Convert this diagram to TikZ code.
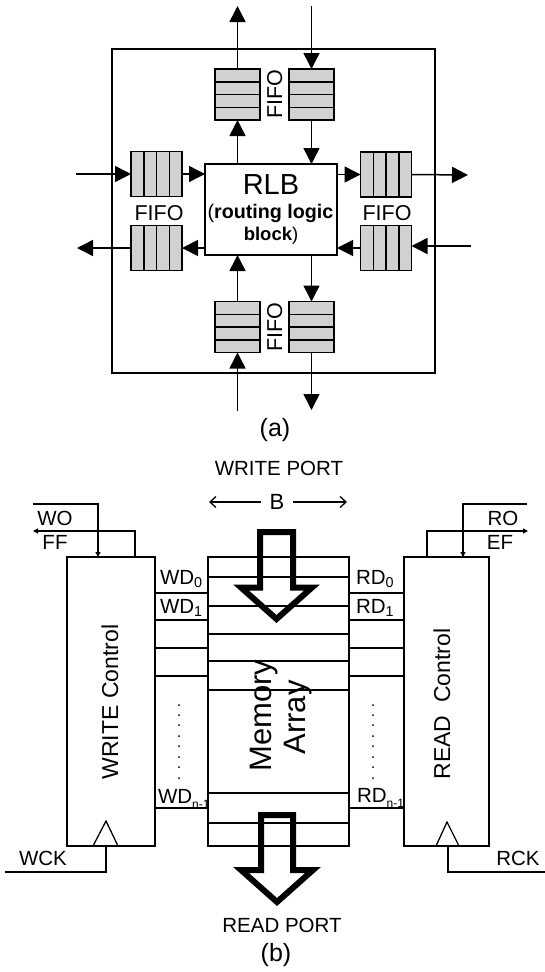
\documentclass[tikz,border=0pt]{standalone}
\usepackage{fontspec}
\setmainfont{Liberation Sans}
\usetikzlibrary{arrows.meta,calc}
\definecolor{fifogray}{gray}{0.82}
\tikzset{
  x=1pt,y=-1pt,
  every node/.style={inner sep=0pt,outer sep=0pt},
  fifo/.style={draw=black,fill=fifogray,line width=1.5pt},
  fifoh/.style={fifo,minimum width=45pt,minimum height=51pt,path picture={
    \foreach \t in {0.25,0.5,0.75}
      \draw ($(path picture bounding box.north west)!\t!(path picture bounding box.south west)$) -- ($(path picture bounding box.north east)!\t!(path picture bounding box.south east)$);}},
  fifov/.style={fifo,minimum width=51pt,minimum height=45pt,path picture={
    \foreach \t in {0.25,0.5,0.75}
      \draw ($(path picture bounding box.north west)!\t!(path picture bounding box.north east)$) -- ($(path picture bounding box.south west)!\t!(path picture bounding box.south east)$);}},
  flow/.style={line width=1.5pt,-{Triangle[length=16pt,width=16pt]}},
  wire/.style={line width=1.3pt},
  smallflow/.style={wire,-{Triangle[length=5pt,width=5pt]}},
  span/.style={line width=1.3pt,-{Straight Barb[length=6pt,width=11pt,line width=1.3pt]}},
  block/.style={draw=black,line width=1.9pt},
  bigarrow/.style={line width=6pt,miter limit=10},
  lbl/.style={font=\fontsize{20.5}{22}\selectfont},
  side/.style={font=\fontsize{23}{24}\selectfont,rotate=90,anchor=base},
  big/.style={font=\fontsize{31}{32}\selectfont,rotate=90,anchor=base},
  fifolbl/.style={font=\fontsize{21.5}{22}\selectfont},
  capt/.style={font=\fontsize{25}{26}\selectfont},
  smalldot/.style={circle,fill=black,minimum size=2pt}
}
\begin{document}
\begin{tikzpicture}
    \useasboundingbox (0,0) rectangle (545,972);

    % (a)
    \node[draw=black,line width=1.4pt,minimum width=323pt,minimum height=324pt] (outer) at (273.5,211) {};
    \node[draw=black,fill=white,line width=1.6pt,minimum width=132pt,minimum height=91pt] (rlb) at (271,209.5) {};
    \node[fifoh] (fifoTL) at (237.5,94.5) {};
    \node[fifoh] (fifoTR) at (311.5,94.5) {};
    \node[fifoh] (fifoBL) at (237.5,327) {};
    \node[fifoh] (fifoBR) at (311.5,327) {};
    \node[fifov] (fifoLT) at (156.5,174) {};
    \node[fifov] (fifoLB) at (156.5,248) {};
    \node[fifov] (fifoRT) at (386,174.5) {};
    \node[fifov] (fifoRB) at (386,248) {};

    \node[font=\fontsize{29}{30}\selectfont] (rlbT) at (271,185) {RLB};
    \node[font=\fontsize{19.7}{22}\selectfont] (rlbM) at (270.5,213) {(\textbf{routing logic}};
    \node[font=\fontsize{18.5}{22}\selectfont] (rlbB) at (271,236) {\textbf{block})};
    \node[fifolbl] (labLeft) at (159,213) {FIFO};
    \node[fifolbl] (labRight) at (387,213) {FIFO};
    \node[fifolbl,rotate=90,anchor=base] (labTop) at (282,94) {FIFO};
    \node[fifolbl,rotate=90,anchor=base] (labBot) at (282,327) {FIFO};
    \node[capt] (capA) at (275,430) {(a)};

    \coordinate (outTop) at (237.5,6);
    \coordinate (inTop) at (311.5,6);
    \coordinate (inLeft) at (76,174);
    \coordinate (outLeft) at (77,248);
    \coordinate (outRight) at (468,175);
    \coordinate (inRight) at (471,246);
    \coordinate (inBot) at (237.5,411);
    \coordinate (outBot) at (311.5,410);

    \draw[flow] (fifoTL.north) -- (outTop);
    \draw[flow] (inTop) -- (fifoTR.north);
    \draw[flow] (fifoTL.south |- rlb.north) -- (fifoTL.south);
    \draw[flow] (fifoTR.south) -- (fifoTR.south |- rlb.north);
    \draw[flow] (inLeft) -- (fifoLT.west);
    \draw[flow] (fifoLT.east) -- (fifoLT.east -| rlb.west);
    \draw[flow] (fifoLB.east -| rlb.west) -- (fifoLB.east);
    \draw[flow] (fifoLB.west) -- (outLeft);
    \draw[flow] (fifoRT.west -| rlb.east) -- (fifoRT.west);
    \draw[flow] (fifoRT.east) -- (outRight);
    \draw[flow] (inRight) -- (inRight -| fifoRB.east);
    \draw[flow] (fifoRB.west) -- (fifoRB.west -| rlb.east);
    \draw[flow] (fifoBL.north) -- (fifoBL.north |- rlb.south);
    \draw[flow] (fifoBR.north |- rlb.south) -- (fifoBR.north);
    \draw[flow] (inBot) -- (fifoBL.south);
    \draw[flow] (fifoBR.south) -- (outBot);

    % (b)
    \node[block,minimum width=88pt,minimum height=289pt] (wctl) at (111,701.5) {};
    \node[block,minimum width=141pt,minimum height=289pt] (mem) at (278.5,701.5) {};
    \node[block,minimum width=85pt,minimum height=289pt] (rctl) at (446.5,701.5) {};

    \node[side] (wctlT) at (118,702) {WRITE Control};
    \node[side] (rctlT) at (450,704) {READ\hspace{0.28em} Control};
    \node[big] (memT) at (271,715.5) {Memory};
    \node[big] (arrT) at (305,717.5) {Array};

    \foreach \n/\y in {a/577,b/606,c/634,d/661,e/690,f/793,g/823}{
      \coordinate (row\n) at (278,\y);
      \draw[wire] (row\n -| mem.west) -- (row\n -| mem.east);
    }
    \foreach \n/\y in {a/593,b/620,c/648,d/676,e/808}{
      \coordinate (link\n) at (180,\y);
      \draw[wire] (link\n -| wctl.east) -- (link\n -| mem.west);
      \draw[wire] (link\n -| mem.east) -- (link\n -| rctl.west);
    }
    \foreach \y in {705,715,725,736,746,757,767,778}{
      \node[smalldot] (dotL\y) at (179,\y) {};
      \node[smalldot] (dotR\y) at (373,\y) {};
    }

    \draw[bigarrow] (260,532) -- (293,532) -- (293,587.5) -- (312,587.5) -- (276.5,619) -- (241,587.5) -- (260,587.5) -- cycle;
    \draw[bigarrow] (261,815) -- (293,815) -- (293,870) -- (313,870) -- (277,902) -- (241,870) -- (261,870) -- cycle;

    \node[lbl] (wrPort) at (279,468) {WRITE PORT};
    \node[lbl] (rdPort) at (282,925) {READ PORT};
    \node[font=\fontsize{22}{24}\selectfont] (busB) at (277,502) {B};
    \node[capt] (capB) at (276,955) {(b)};
    \coordinate (busL) at (209,502);
    \coordinate (busR) at (347,502);
    \draw[span] (busB.west)+(-9,0) -- (busL);
    \draw[span] (busB.east)+(9,0) -- (busR);

    \node[lbl] (wo) at (55,518) {WO};
    \node[lbl] (ff) at (55,542) {FF};
    \node[lbl] (ro) at (503,518) {RO};
    \node[lbl] (ef) at (500,542) {EF};
    \node[lbl] (wck) at (43,858) {WCK};
    \node[lbl] (rck) at (518,858) {RCK};

    \node[lbl,anchor=base west] (wd0) at (160,584) {WD\textsubscript{0}};
    \node[lbl,anchor=base west] (wd1) at (160,613) {WD\textsubscript{1}};
    \node[lbl,anchor=base west] (wdn) at (158,803) {WD\raisebox{-5pt}{\fontsize{12}{12}\selectfont n-1}};
    \node[lbl,anchor=base west] (rd0) at (356,584) {RD\textsubscript{0}};
    \node[lbl,anchor=base west] (rd1) at (356,613) {RD\textsubscript{1}};
    \node[lbl,anchor=base west] (rdn) at (357,802) {RD\raisebox{-5pt}{\fontsize{12}{12}\selectfont n-1}};

    \coordinate (woEnd) at (33,504);
    \coordinate (ffEnd) at (33,531);
    \coordinate (roEnd) at (527,504);
    \coordinate (efEnd) at (528,531);
    \coordinate (wckEnd) at (5,872);
    \coordinate (rckEnd) at (545,872);
    \coordinate (woIn) at (98,557);
    \coordinate (ffOut) at (135,557);
    \coordinate (roIn) at (463,557);
    \coordinate (efOut) at (427,557);
    \coordinate (wclk) at (106,846);
    \coordinate (rclk) at (448,846);

    \draw[smallflow] (woEnd) -| (woIn);
    \draw[smallflow] (ffOut) |- (ffEnd);
    \draw[smallflow] (roEnd) -| (roIn);
    \draw[smallflow] (efOut) |- (efEnd);
    \draw[wire] (wclk) |- (wckEnd);
    \draw[wire] (rclk) |- (rckEnd);
    \draw[wire] (wclk)+(-13,0) -- +(0,-25) -- +(12,0);
    \draw[wire] (rclk)+(-12,0) -- +(-1,-24) -- +(11,0);
\end{tikzpicture}
\end{document}
